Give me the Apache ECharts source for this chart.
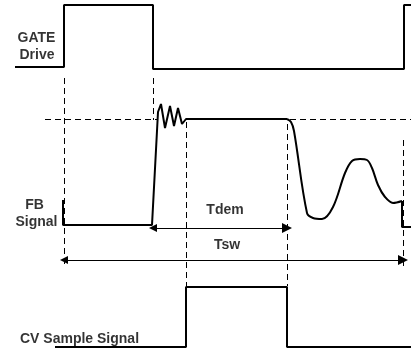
<!DOCTYPE html>
<html>
<head>
<meta charset="utf-8">
<script src="https://cdn.jsdelivr.net/npm/echarts@6/dist/echarts.min.js"></script>
<style>html,body{margin:0;padding:0;background:#fff}#c{width:411px;height:349px}</style>
</head>
<body>
<div id="c"></div>
<script>
// Time axis (arbitrary units) and signal level axis (arbitrary units, downwards)
const gateDrive = [[15,67],[64,67],[64,5],[153,5],[153,69],[404,69],[404,5],[411,5]];
const fbEdge = [[63,200],[63,225],[152,225],[158,112],[161,104],[165,128],[170,106],[174,126],[178,108],[182,124],[186,119],[287,119]];
const fbRecovery = [[287,119],[291,122],[294,131],[307,213],[313,218],[322,219],[333,207],[345,173],[352,161],[360,159],[367,160],[372,168],[378,185],[385,197],[393,203],[402,201]];
const fbNext = [[402,201],[402,227],[411,227]];
const cvSample = [[55,347],[186,347],[186,287],[287,287],[287,347],[411,347]];
const guideVertical = [[64,78,268],[153,78,120],[186,122,286],[287,124,286],[403,140,270]];
const guideHorizontal = [[119,45,158],[119,290,411]];
const spans = [{name:'Tdem', from:153, to:287, level:228}, {name:'Tsw', from:64, to:403, level:260}];
const labels = [
  {name:'GATE', value:[36.5,38]}, {name:'Drive', value:[37,55]},
  {name:'FB', value:[34.5,205]}, {name:'Signal', value:[36.5,222]},
  {name:'CV Sample Signal', value:[79.5,339]},
  {name:'Tdem', value:[225,210]}, {name:'Tsw', value:[227,245]}
];

const solid = {color:'#000', width:2};
const chart = echarts.init(document.getElementById('c'), null, {renderer:'canvas'});
const guideData = guideVertical.map(g => ({coords:[[g[0],g[1]],[g[0],g[2]]]}))
  .concat(guideHorizontal.map(g => ({coords:[[g[1],g[0]],[g[2],g[0]]]})));
chart.setOption({
  animation:false,
  grid:{left:0,right:0,top:0,bottom:0},
  xAxis:{type:'value',min:0,max:411,show:false},
  yAxis:{type:'value',min:0,max:349,inverse:true,show:false},
  series:[
    {type:'line',data:gateDrive,showSymbol:false,lineStyle:solid},
    {type:'line',data:fbEdge,showSymbol:false,lineStyle:solid},
    {type:'line',data:fbRecovery,showSymbol:false,smooth:0.35,lineStyle:solid},
    {type:'line',data:fbNext,showSymbol:false,lineStyle:solid},
    {type:'line',data:cvSample,showSymbol:false,lineStyle:solid},
    {type:'lines',coordinateSystem:'cartesian2d',symbol:['none','none'],
     lineStyle:{color:'#000',width:1,type:[6,4],opacity:1},data:guideData},
    {type:'lines',coordinateSystem:'cartesian2d',symbol:['triangle','triangle'],symbolSize:[8,10],
     lineStyle:{color:'#000',width:1,opacity:1},
     data:spans.map(s => ({name:s.name,coords:[[s.from,s.level],[s.to,s.level]]}))},
    {type:'scatter',symbolSize:0,data:labels,
     label:{show:true,position:'inside',formatter:'{b}',color:'#000',fontWeight:'bold',fontSize:14,fontFamily:'Liberation Sans, Arial, sans-serif'}}
  ]
});
</script>
</body>
</html>
